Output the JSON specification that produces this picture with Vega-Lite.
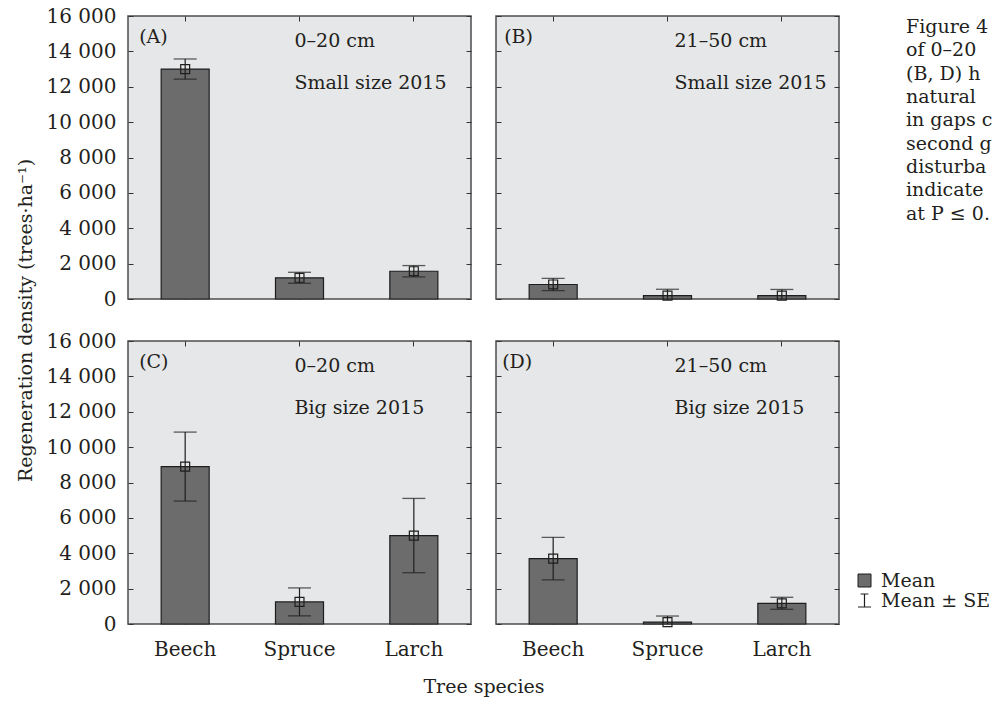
{
 "$schema": "https://vega.github.io/schema/vega-lite/v6.json",
 "padding": {"left": 15, "top": 5, "right": 0, "bottom": 0},
 "background": "white",
 "datasets": {
  "bars": [
   {"panel": "A", "species": "Beech", "mean": 13000, "lo": 12430, "hi": 13570},
   {"panel": "A", "species": "Spruce", "mean": 1200, "lo": 890, "hi": 1510},
   {"panel": "A", "species": "Larch", "mean": 1570, "lo": 1250, "hi": 1890},
   {"panel": "B", "species": "Beech", "mean": 820, "lo": 470, "hi": 1170},
   {"panel": "B", "species": "Spruce", "mean": 190, "lo": -170, "hi": 550},
   {"panel": "B", "species": "Larch", "mean": 190, "lo": -160, "hi": 540},
   {"panel": "C", "species": "Beech", "mean": 8900, "lo": 6950, "hi": 10850},
   {"panel": "C", "species": "Spruce", "mean": 1250, "lo": 460, "hi": 2040},
   {"panel": "C", "species": "Larch", "mean": 5000, "lo": 2900, "hi": 7100},
   {"panel": "D", "species": "Beech", "mean": 3700, "lo": 2500, "hi": 4900},
   {"panel": "D", "species": "Spruce", "mean": 110, "lo": -230, "hi": 450},
   {"panel": "D", "species": "Larch", "mean": 1170, "lo": 830, "hi": 1510}
  ]
 },
 "columns": 3,
 "spacing": {"row": 42, "column": 25},
 "bounds": "flush",
 "concat": [
  {
   "width": 343, "height": 283,
   "data": {"name": "bars"},
   "transform": [{"filter": "datum.panel === 'A'"}],
   "layer": [
    {"mark": {"type": "bar", "fill": "#6c6c6c", "stroke": "#1e1e1e", "strokeWidth": 1.2},
     "encoding": {
      "x": {"field": "species", "type": "nominal", "scale": {"domain": ["Beech", "Spruce", "Larch"], "paddingInner": 0.58, "paddingOuter": 0.29}, "axis": {"orient": "bottom", "labels": false, "title": null}},
      "y": {"field": "mean", "type": "quantitative", "scale": {"domain": [0, 16000], "nice": false}, "axis": {"orient": "left", "values": [0, 2000, 4000, 6000, 8000, 10000, 12000, 14000, 16000], "labelExpr": "replace(format(datum.value, ','), ',', ' ')", "labelPadding": 17, "title": "Regeneration density (trees·ha⁻¹)", "titleY": 304, "titlePadding": 11}}
     }},
    {"mark": {"type": "rule", "color": "#1e1e1e", "strokeWidth": 1.2, "clip": true},
     "encoding": {
      "x": {"field": "species", "type": "nominal", "scale": {"domain": ["Beech", "Spruce", "Larch"]}, "axis": {"orient": "top", "labels": false, "title": null}},
      "y": {"field": "lo", "type": "quantitative", "scale": {"domain": [0, 16000], "nice": false}, "axis": {"orient": "right", "values": [0, 2000, 4000, 6000, 8000, 10000, 12000, 14000, 16000], "labels": false, "title": null}},
      "y2": {"field": "hi"}
     }},
    {"mark": {"type": "tick", "color": "#1e1e1e", "size": 23, "thickness": 1.3, "clip": true},
     "encoding": {
      "x": {"field": "species", "type": "nominal", "scale": {"domain": ["Beech", "Spruce", "Larch"]}, "axis": null},
      "y": {"field": "hi", "type": "quantitative", "scale": {"domain": [0, 16000], "nice": false}, "axis": null}
     }},
    {"mark": {"type": "tick", "color": "#1e1e1e", "size": 23, "thickness": 1.3, "clip": true},
     "encoding": {
      "x": {"field": "species", "type": "nominal", "scale": {"domain": ["Beech", "Spruce", "Larch"]}, "axis": null},
      "y": {"field": "lo", "type": "quantitative", "scale": {"domain": [0, 16000], "nice": false}, "axis": null}
     }},
    {"mark": {"type": "point", "shape": "square", "size": 80, "filled": false, "stroke": "#1e1e1e", "strokeWidth": 1.2, "opacity": 1},
     "encoding": {
      "x": {"field": "species", "type": "nominal", "scale": {"domain": ["Beech", "Spruce", "Larch"]}, "axis": null},
      "y": {"field": "mean", "type": "quantitative", "scale": {"domain": [0, 16000], "nice": false}, "axis": null}
     }},
    {"data": {"values": [{"panel": "A", "tag": "(A)", "depth": "0–20 cm", "size": "Small size 2015"}]},
     "layer": [
      {"mark": {"type": "text", "align": "left", "baseline": "middle", "dx": -46, "dy": 21},
       "encoding": {"x": {"datum": "Beech", "type": "nominal", "axis": null}, "y": {"datum": 16000, "type": "quantitative", "axis": null}, "text": {"field": "tag"}}},
      {"mark": {"type": "text", "align": "left", "baseline": "alphabetic", "dx": -5, "dy": 31},
       "encoding": {"x": {"datum": "Spruce", "type": "nominal", "axis": null}, "y": {"datum": 16000, "type": "quantitative", "axis": null}, "text": {"field": "depth"}}},
      {"mark": {"type": "text", "align": "left", "baseline": "alphabetic", "dx": -5, "dy": 73},
       "encoding": {"x": {"datum": "Spruce", "type": "nominal", "axis": null}, "y": {"datum": 16000, "type": "quantitative", "axis": null}, "text": {"field": "size"}}}
     ]}
   ],
   "resolve": {"axis": {"x": "independent", "y": "independent"}}
  },
  {
   "width": 343, "height": 283,
   "data": {"name": "bars"},
   "transform": [{"filter": "datum.panel === 'B'"}],
   "layer": [
    {"mark": {"type": "bar", "fill": "#6c6c6c", "stroke": "#1e1e1e", "strokeWidth": 1.2},
     "encoding": {
      "x": {"field": "species", "type": "nominal", "scale": {"domain": ["Beech", "Spruce", "Larch"], "paddingInner": 0.58, "paddingOuter": 0.29}, "axis": {"orient": "bottom", "labels": false, "title": null}},
      "y": {"field": "mean", "type": "quantitative", "scale": {"domain": [0, 16000], "nice": false}, "axis": {"orient": "left", "values": [0, 2000, 4000, 6000, 8000, 10000, 12000, 14000, 16000], "labels": false, "title": null}}
     }},
    {"mark": {"type": "rule", "color": "#1e1e1e", "strokeWidth": 1.2, "clip": true},
     "encoding": {
      "x": {"field": "species", "type": "nominal", "scale": {"domain": ["Beech", "Spruce", "Larch"]}, "axis": {"orient": "top", "labels": false, "title": null}},
      "y": {"field": "lo", "type": "quantitative", "scale": {"domain": [0, 16000], "nice": false}, "axis": {"orient": "right", "values": [0, 2000, 4000, 6000, 8000, 10000, 12000, 14000, 16000], "labels": false, "title": null}},
      "y2": {"field": "hi"}
     }},
    {"mark": {"type": "tick", "color": "#1e1e1e", "size": 23, "thickness": 1.3, "clip": true},
     "encoding": {
      "x": {"field": "species", "type": "nominal", "scale": {"domain": ["Beech", "Spruce", "Larch"]}, "axis": null},
      "y": {"field": "hi", "type": "quantitative", "scale": {"domain": [0, 16000], "nice": false}, "axis": null}
     }},
    {"mark": {"type": "tick", "color": "#1e1e1e", "size": 23, "thickness": 1.3, "clip": true},
     "encoding": {
      "x": {"field": "species", "type": "nominal", "scale": {"domain": ["Beech", "Spruce", "Larch"]}, "axis": null},
      "y": {"field": "lo", "type": "quantitative", "scale": {"domain": [0, 16000], "nice": false}, "axis": null}
     }},
    {"mark": {"type": "point", "shape": "square", "size": 80, "filled": false, "stroke": "#1e1e1e", "strokeWidth": 1.2, "opacity": 1},
     "encoding": {
      "x": {"field": "species", "type": "nominal", "scale": {"domain": ["Beech", "Spruce", "Larch"]}, "axis": null},
      "y": {"field": "mean", "type": "quantitative", "scale": {"domain": [0, 16000], "nice": false}, "axis": null}
     }},
    {"data": {"values": [{"panel": "B", "tag": "(B)", "depth": "21–50 cm", "size": "Small size 2015"}]},
     "layer": [
      {"mark": {"type": "text", "align": "left", "baseline": "middle", "dx": -49, "dy": 21},
       "encoding": {"x": {"datum": "Beech", "type": "nominal", "axis": null}, "y": {"datum": 16000, "type": "quantitative", "axis": null}, "text": {"field": "tag"}}},
      {"mark": {"type": "text", "align": "left", "baseline": "alphabetic", "dx": 7, "dy": 31},
       "encoding": {"x": {"datum": "Spruce", "type": "nominal", "axis": null}, "y": {"datum": 16000, "type": "quantitative", "axis": null}, "text": {"field": "depth"}}},
      {"mark": {"type": "text", "align": "left", "baseline": "alphabetic", "dx": 7, "dy": 73},
       "encoding": {"x": {"datum": "Spruce", "type": "nominal", "axis": null}, "y": {"datum": 16000, "type": "quantitative", "axis": null}, "text": {"field": "size"}}}
     ]}
   ],
   "resolve": {"axis": {"x": "independent", "y": "independent"}}
  },
  {
   "width": 130, "height": 283,
   "view": {"fill": null, "stroke": null},
   "data": {"values": [
    {"line": 0, "text": "Figure 4"},
    {"line": 1, "text": "of 0–20"},
    {"line": 2, "text": "(B, D) h"},
    {"line": 3, "text": "natural"},
    {"line": 4, "text": "in gaps c"},
    {"line": 5, "text": "second g"},
    {"line": 6, "text": "disturba"},
    {"line": 7, "text": "indicate"},
    {"line": 8, "text": "at P ≤ 0."}
   ]},
   "mark": {"type": "text", "align": "left", "baseline": "alphabetic", "font": "DejaVu Serif", "fontSize": 19, "color": "#231f20"},
   "encoding": {
    "x": {"datum": 0, "type": "quantitative", "scale": {"domain": [-1, 2.095]}, "axis": null},
    "y": {"field": "line", "type": "quantitative", "scale": {"domain": [-0.729, 11.4], "reverse": true}, "axis": null},
    "text": {"field": "text"}
   }
  },
  {
   "width": 343, "height": 283,
   "data": {"name": "bars"},
   "transform": [{"filter": "datum.panel === 'C'"}],
   "layer": [
    {"mark": {"type": "bar", "fill": "#6c6c6c", "stroke": "#1e1e1e", "strokeWidth": 1.2},
     "encoding": {
      "x": {"field": "species", "type": "nominal", "scale": {"domain": ["Beech", "Spruce", "Larch"], "paddingInner": 0.58, "paddingOuter": 0.29}, "axis": {"orient": "bottom", "labelAngle": 0, "labelPadding": 20, "title": "Tree species", "titleX": 355.5, "titlePadding": 18}},
      "y": {"field": "mean", "type": "quantitative", "scale": {"domain": [0, 16000], "nice": false}, "axis": {"orient": "left", "values": [0, 2000, 4000, 6000, 8000, 10000, 12000, 14000, 16000], "labelExpr": "replace(format(datum.value, ','), ',', ' ')", "labelPadding": 17, "title": null}}
     }},
    {"mark": {"type": "rule", "color": "#1e1e1e", "strokeWidth": 1.2, "clip": true},
     "encoding": {
      "x": {"field": "species", "type": "nominal", "scale": {"domain": ["Beech", "Spruce", "Larch"]}, "axis": {"orient": "top", "labels": false, "title": null}},
      "y": {"field": "lo", "type": "quantitative", "scale": {"domain": [0, 16000], "nice": false}, "axis": {"orient": "right", "values": [0, 2000, 4000, 6000, 8000, 10000, 12000, 14000, 16000], "labels": false, "title": null}},
      "y2": {"field": "hi"}
     }},
    {"mark": {"type": "tick", "color": "#1e1e1e", "size": 23, "thickness": 1.3, "clip": true},
     "encoding": {
      "x": {"field": "species", "type": "nominal", "scale": {"domain": ["Beech", "Spruce", "Larch"]}, "axis": null},
      "y": {"field": "hi", "type": "quantitative", "scale": {"domain": [0, 16000], "nice": false}, "axis": null}
     }},
    {"mark": {"type": "tick", "color": "#1e1e1e", "size": 23, "thickness": 1.3, "clip": true},
     "encoding": {
      "x": {"field": "species", "type": "nominal", "scale": {"domain": ["Beech", "Spruce", "Larch"]}, "axis": null},
      "y": {"field": "lo", "type": "quantitative", "scale": {"domain": [0, 16000], "nice": false}, "axis": null}
     }},
    {"mark": {"type": "point", "shape": "square", "size": 80, "filled": false, "stroke": "#1e1e1e", "strokeWidth": 1.2, "opacity": 1},
     "encoding": {
      "x": {"field": "species", "type": "nominal", "scale": {"domain": ["Beech", "Spruce", "Larch"]}, "axis": null},
      "y": {"field": "mean", "type": "quantitative", "scale": {"domain": [0, 16000], "nice": false}, "axis": null}
     }},
    {"data": {"values": [{"panel": "C", "tag": "(C)", "depth": "0–20 cm", "size": "Big size 2015"}]},
     "layer": [
      {"mark": {"type": "text", "align": "left", "baseline": "middle", "dx": -46, "dy": 21},
       "encoding": {"x": {"datum": "Beech", "type": "nominal", "axis": null}, "y": {"datum": 16000, "type": "quantitative", "axis": null}, "text": {"field": "tag"}}},
      {"mark": {"type": "text", "align": "left", "baseline": "alphabetic", "dx": -5, "dy": 31},
       "encoding": {"x": {"datum": "Spruce", "type": "nominal", "axis": null}, "y": {"datum": 16000, "type": "quantitative", "axis": null}, "text": {"field": "depth"}}},
      {"mark": {"type": "text", "align": "left", "baseline": "alphabetic", "dx": -5, "dy": 73},
       "encoding": {"x": {"datum": "Spruce", "type": "nominal", "axis": null}, "y": {"datum": 16000, "type": "quantitative", "axis": null}, "text": {"field": "size"}}}
     ]}
   ],
   "resolve": {"axis": {"x": "independent", "y": "independent"}}
  },
  {
   "width": 343, "height": 283,
   "data": {"name": "bars"},
   "transform": [{"filter": "datum.panel === 'D'"}],
   "layer": [
    {"mark": {"type": "bar", "stroke": "#1e1e1e", "strokeWidth": 1.2},
     "encoding": {
      "x": {"field": "species", "type": "nominal", "scale": {"domain": ["Beech", "Spruce", "Larch"], "paddingInner": 0.58, "paddingOuter": 0.29}, "axis": {"orient": "bottom", "labelAngle": 0, "labelPadding": 20, "title": null}},
      "y": {"field": "mean", "type": "quantitative", "scale": {"domain": [0, 16000], "nice": false}, "axis": {"orient": "left", "values": [0, 2000, 4000, 6000, 8000, 10000, 12000, 14000, 16000], "labels": false, "title": null}},
      "fill": {"datum": "Mean", "type": "nominal", "scale": {"domain": ["Mean"], "range": ["#6c6c6c"]}, "legend": {"orient": "none", "legendX": 727, "legendY": 555, "title": null, "padding": 0, "symbolType": "square", "symbolSize": 169, "symbolStrokeColor": "#1e1e1e", "symbolStrokeWidth": 1, "labelOffset": 7, "labelFontSize": 19}}
     }},
    {"mark": {"type": "rule", "strokeWidth": 1.2, "clip": true},
     "encoding": {
      "x": {"field": "species", "type": "nominal", "scale": {"domain": ["Beech", "Spruce", "Larch"]}, "axis": {"orient": "top", "labels": false, "title": null}},
      "y": {"field": "lo", "type": "quantitative", "scale": {"domain": [0, 16000], "nice": false}, "axis": {"orient": "right", "values": [0, 2000, 4000, 6000, 8000, 10000, 12000, 14000, 16000], "labels": false, "title": null}},
      "y2": {"field": "hi"},
      "stroke": {"datum": "Mean ± SE", "type": "nominal", "scale": {"domain": ["Mean ± SE"], "range": ["#1e1e1e"]}, "legend": {"orient": "none", "legendX": 727, "legendY": 575, "title": null, "padding": 0, "symbolType": "M-0.6,-1H0.6M0,-1V1M-1,1H1", "symbolSize": 169, "symbolFillColor": "transparent", "symbolStrokeWidth": 1.2, "labelOffset": 7, "labelFontSize": 19}}
     }},
    {"mark": {"type": "tick", "color": "#1e1e1e", "size": 23, "thickness": 1.3, "clip": true},
     "encoding": {
      "x": {"field": "species", "type": "nominal", "scale": {"domain": ["Beech", "Spruce", "Larch"]}, "axis": null},
      "y": {"field": "hi", "type": "quantitative", "scale": {"domain": [0, 16000], "nice": false}, "axis": null}
     }},
    {"mark": {"type": "tick", "color": "#1e1e1e", "size": 23, "thickness": 1.3, "clip": true},
     "encoding": {
      "x": {"field": "species", "type": "nominal", "scale": {"domain": ["Beech", "Spruce", "Larch"]}, "axis": null},
      "y": {"field": "lo", "type": "quantitative", "scale": {"domain": [0, 16000], "nice": false}, "axis": null}
     }},
    {"mark": {"type": "point", "shape": "square", "size": 80, "filled": false, "stroke": "#1e1e1e", "strokeWidth": 1.2, "opacity": 1},
     "encoding": {
      "x": {"field": "species", "type": "nominal", "scale": {"domain": ["Beech", "Spruce", "Larch"]}, "axis": null},
      "y": {"field": "mean", "type": "quantitative", "scale": {"domain": [0, 16000], "nice": false}, "axis": null}
     }},
    {"data": {"values": [{"panel": "D", "tag": "(D)", "depth": "21–50 cm", "size": "Big size 2015"}]},
     "layer": [
      {"mark": {"type": "text", "align": "left", "baseline": "middle", "dx": -51, "dy": 21},
       "encoding": {"x": {"datum": "Beech", "type": "nominal", "axis": null}, "y": {"datum": 16000, "type": "quantitative", "axis": null}, "text": {"field": "tag"}}},
      {"mark": {"type": "text", "align": "left", "baseline": "alphabetic", "dx": 7, "dy": 31},
       "encoding": {"x": {"datum": "Spruce", "type": "nominal", "axis": null}, "y": {"datum": 16000, "type": "quantitative", "axis": null}, "text": {"field": "depth"}}},
      {"mark": {"type": "text", "align": "left", "baseline": "alphabetic", "dx": 7, "dy": 73},
       "encoding": {"x": {"datum": "Spruce", "type": "nominal", "axis": null}, "y": {"datum": 16000, "type": "quantitative", "axis": null}, "text": {"field": "size"}}}
     ]}
   ],
   "resolve": {"axis": {"x": "independent", "y": "independent"}}
  }
 ],
 "config": {
  "font": "DejaVu Serif",
  "view": {"fill": "#e6e7e8", "stroke": "#4d4d4d", "strokeWidth": 1.5},
  "axis": {"labelFont": "DejaVu Serif", "labelFontSize": 20, "labelColor": "#231f20", "titleFont": "DejaVu Serif", "titleFontSize": 19, "titleFontWeight": "normal", "titleColor": "#231f20", "domain": false, "grid": false, "tickColor": "#333333", "tickSize": -5, "tickWidth": 1},
  "text": {"font": "DejaVu Serif", "fontSize": 19, "color": "#231f20"},
  "legend": {"labelFont": "DejaVu Serif", "labelFontSize": 19, "labelColor": "#231f20"}
 }
}
